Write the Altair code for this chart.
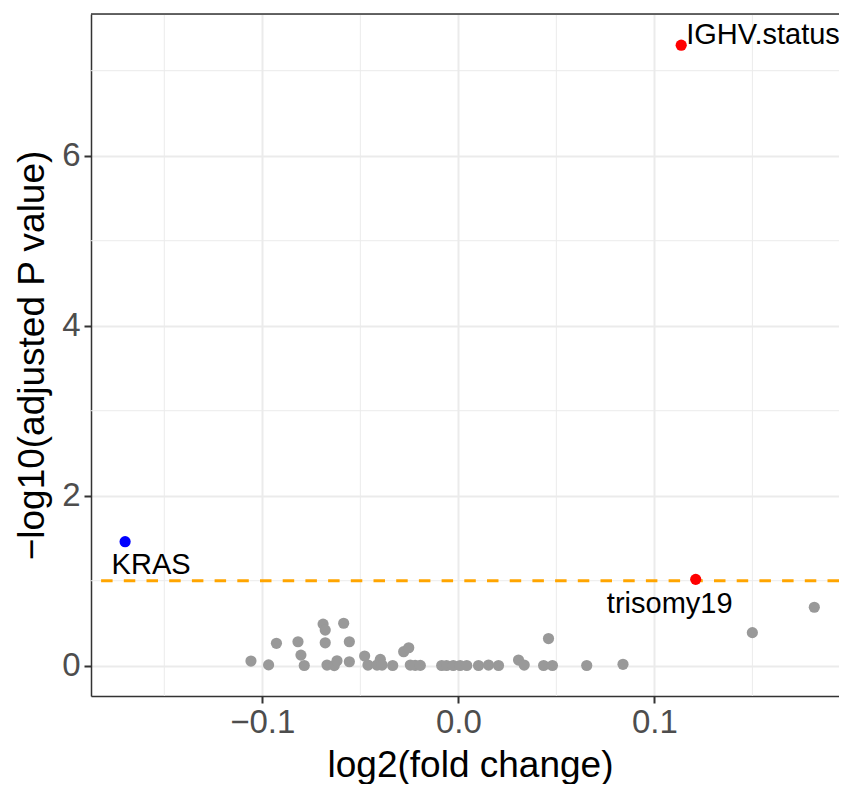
import altair as alt
import pandas as pd

# ---- data ----
gray_x = [-0.1058, -0.0968, -0.0928, -0.0818, -0.0803, -0.0786, -0.0690, -0.0679, -0.0679,
          -0.0670, -0.0633, -0.0619, -0.0585, -0.0556, -0.0556, -0.0478, -0.0461, -0.0415,
          -0.0398, -0.0389, -0.0335, -0.0279, -0.0253, -0.0245, -0.0220, -0.0194, -0.0085,
          -0.0060, -0.0026, 0.0009, 0.0043, 0.0103, 0.0154, 0.0205, 0.0307, 0.0336, 0.0435,
          0.0460, 0.0480, 0.0655, 0.0840, 0.1500, 0.1816]
gray_y = [0.055, 0.010, 0.264, 0.282, 0.125, 0.003, 0.490, 0.419, 0.270,
          0.008, 0.002, 0.059, 0.500, 0.282, 0.047, 0.114, 0.008, 0.008,
          0.075, 0.008, 0.003, 0.165, 0.212, 0.008, 0.004, 0.004, 0.003,
          0.003, 0.003, 0.003, 0.003, 0.003, 0.008, 0.003, 0.067, 0.008, 0.003,
          0.320, 0.003, 0.003, 0.017, 0.389, 0.688]

hit_names = ["IGHV.status", "trisomy19", "KRAS"]
hit_x = [0.1137, 0.1211, -0.1700]
hit_y = [7.30, 1.016, 1.459]
hit_color = ["red", "red", "blue"]

threshold = [1.0]
x_ticks = [-0.1, 0.0, 0.1]
y_ticks = [0, 2, 4, 6]
x_minor = [-0.15, -0.05, 0.05, 0.15]
y_minor = [1, 3, 5, 7]

FONT = "Liberation Sans"

gray_df = pd.DataFrame({"x": gray_x, "y": gray_y})
hit_df = pd.DataFrame({"x": hit_x, "y": hit_y, "name": hit_names, "col": hit_color})

xscale = alt.Scale(domain=[-0.1874, 0.1942], nice=False, zero=False)
yscale = alt.Scale(domain=[-0.356, 7.667], nice=False, zero=False)

xaxis = alt.Axis(values=x_ticks, format=".1f", title="log2(fold change)",
                 labelFontSize=33, labelColor="#4D4D4D", labelFont=FONT,
                 tickColor="#333333", tickWidth=2, tickSize=7, labelPadding=3,
                 domainColor="#333333", domainWidth=1.5,
                 gridColor="#EBEBEB", gridWidth=2,
                 titleFontSize=37, titleFont=FONT, titleColor="black",
                 titleFontWeight="normal", titlePadding=8, titleX=379,
                 labelFlush=False)
yaxis = alt.Axis(values=y_ticks, format="d", title="\u2212log10(adjusted P value)",
                 labelFontSize=33, labelColor="#4D4D4D", labelFont=FONT,
                 tickColor="#333333", tickWidth=2, tickSize=7, labelPadding=4,
                 domainColor="#333333", domainWidth=1.5,
                 gridColor="#EBEBEB", gridWidth=2,
                 titleFontSize=37, titleFont=FONT, titleColor="black",
                 titleFontWeight="normal", titlePadding=10, labelFlush=False)

base_x = alt.X("x:Q", scale=xscale, axis=xaxis)
base_y = alt.Y("y:Q", scale=yscale, axis=yaxis)

minor_v = alt.Chart(pd.DataFrame({"x": x_minor})).mark_rule(
    color="#EBEBEB", strokeWidth=1).encode(x=alt.X("x:Q", scale=xscale, axis=xaxis))
minor_h = alt.Chart(pd.DataFrame({"y": y_minor})).mark_rule(
    color="#EBEBEB", strokeWidth=1).encode(y=alt.Y("y:Q", scale=yscale, axis=yaxis))

thr = alt.Chart(pd.DataFrame({"y": threshold})).mark_rule(
    color="orange", strokeWidth=2.8, strokeDash=[11.5, 11.2]).encode(
    y=alt.Y("y:Q", scale=yscale, axis=yaxis))

gray_pts = alt.Chart(gray_df).mark_circle(size=125, opacity=1, color="#999999").encode(
    x=base_x, y=base_y)

hit_pts = alt.Chart(hit_df).mark_circle(size=125, opacity=1).encode(
    x=base_x, y=base_y, color=alt.Color("col:N", scale=None, legend=None))

label_offsets = {
    "IGHV.status": dict(align="left", dx=5, dy=-1),
    "trisomy19": dict(align="center", dx=-26, dy=34),
    "KRAS": dict(align="center", dx=26, dy=32),
}
labels = []
for nm, off in label_offsets.items():
    labels.append(
        alt.Chart(hit_df).transform_filter(alt.datum.name == nm).mark_text(
            font=FONT, fontSize=29, color="black", baseline="alphabetic", **off
        ).encode(x=base_x, y=base_y, text="name:N")
    )

top_border = alt.Chart(pd.DataFrame({"y": [0]})).mark_rule(
    color="#333333", strokeWidth=1.5).encode(y=alt.value(0))

chart = alt.layer(minor_v, minor_h, thr, gray_pts, hit_pts, *labels, top_border).properties(
    width=748, height=682,
    autosize=alt.AutoSizeParams(type="none"),
    padding={"left": 83, "top": 6, "right": 0, "bottom": 88},
).configure_view(stroke=None).configure(background="white")

chart.save("out.html", embed_options={"renderer": "svg", "actions": False})
